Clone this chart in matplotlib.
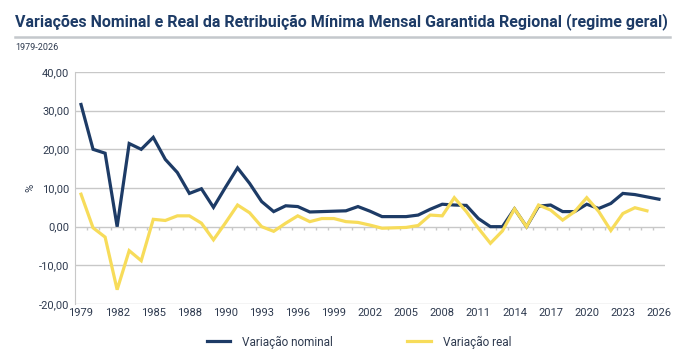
import numpy as np
import matplotlib
matplotlib.use("Agg")
import matplotlib.pyplot as plt
from matplotlib.lines import Line2D

# categories (1989 appears twice in the source series)
years = ["1979", "1980", "1981", "1982", "1983", "1984", "1985", "1986", "1987", "1988",
         "1989", "1989", "1990", "1991", "1992", "1993", "1994", "1995", "1996", "1997",
         "1998", "1999", "2000", "2001", "2002", "2003", "2004", "2005", "2006", "2007",
         "2008", "2009", "2010", "2011", "2012", "2013", "2014", "2015", "2016", "2017",
         "2018", "2019", "2020", "2021", "2022", "2023", "2024", "2025", "2026"]

nominal = [31.6, 20.0, 19.0, 0.0, 21.5, 20.0, 23.1, 17.4, 14.0, 8.6,
           9.8, 5.0, 10.2, 15.2, 11.2, 6.5, 3.9, 5.4, 5.2, 3.8,
           3.9, 4.0, 4.1, 5.2, 4.0, 2.6, 2.6, 2.6, 3.0, 4.5,
           5.8, 5.6, 5.5, 2.1, 0.0, 0.0, 4.6, 0.0, 5.3, 5.6,
           3.9, 3.9, 5.8, 4.7, 6.0, 8.6, 8.3, 7.7, 7.1]

real = [8.4, -0.3, -2.7, -16.3, -6.2, -8.8, 1.9, 1.6, 2.8, 2.8,
        0.9, -3.4, 1.0, 5.6, 3.6, 0.0, -1.2, 0.9, 2.8, 1.3,
        2.1, 2.1, 1.3, 1.1, 0.4, -0.4, -0.3, -0.2, 0.3, 3.0,
        2.8, 7.5, 3.9, -0.4, -4.3, -1.1, 4.6, 0.0, 5.6, 4.3,
        1.7, 3.9, 7.5, 3.9, -1.0, 3.4, 4.9, 4.1]

plt.rcParams['font.family'] = ['Roboto', 'DejaVu Sans']

navy = "#1d3b66"
yellow = "#f7dc5a"
grid_c = "#c8c8c8"
txt_c = "#2e3a4f"

fig = plt.figure(figsize=(7, 3.6), dpi=100)
ax = fig.add_axes([75 / 700, 1 - 304 / 360, 590 / 700, 232 / 360])

x = np.arange(len(years))
ax.plot(x, nominal, color=navy, lw=2.3, solid_joinstyle='miter', zorder=3)
ax.plot(x[:len(real)], real, color=yellow, lw=2.3, solid_joinstyle='miter', zorder=3)

ax.set_xlim(-0.5, len(years) - 0.5)
ax.set_ylim(-20, 40)
ax.set_yticks(np.arange(-20, 41, 10))
ax.set_yticklabels([f"{v:.2f}".replace(".", ",") for v in np.arange(-20, 41, 10)])
ax.set_xticks(x[::3])
ax.set_xticklabels(years[::3])
ax.tick_params(axis='both', length=0, labelsize=8, colors=txt_c, pad=4)
ax.tick_params(axis='x', pad=3)

ax.yaxis.grid(True, color=grid_c, lw=1)
ax.set_axisbelow(True)
for s in ['top', 'right', 'bottom']:
    ax.spines[s].set_visible(False)
ax.spines['left'].set_color(grid_c)

# small category ticks on the zero line
ax.vlines(x[:-1] + 0.5, -0.8, 0, color=grid_c, lw=1, zorder=2)

ax.set_ylabel("%", color=txt_c, fontsize=8, labelpad=3)

fig.text(15 / 700, 1 - 22 / 360,
         "Variações Nominal e Real da Retribuição Mínima Mensal Garantida Regional (regime geral)",
         fontsize=11.55, fontweight='bold', color=navy, va='center', ha='left')
fig.add_artist(Line2D([15 / 700, 670 / 700], [1 - 37 / 360, 1 - 37 / 360],
                      color="#c4c8cc", lw=1.8))
fig.text(15 / 700, 1 - 47 / 360, "1979-2026", fontsize=6.5, color=txt_c, va='center')

handles = [Line2D([], [], color=navy, lw=2.3), Line2D([], [], color=yellow, lw=2.3)]
fig.legend(handles, ["Variação nominal", "Variação real"], loc='center',
           bbox_to_anchor=(359 / 700, 1 - 342 / 360), ncol=2, frameon=False,
           fontsize=8.5, handlelength=2.0, handletextpad=1.0, columnspacing=6.3,
           labelcolor=txt_c)

fig.savefig("out.png", dpi=100)
